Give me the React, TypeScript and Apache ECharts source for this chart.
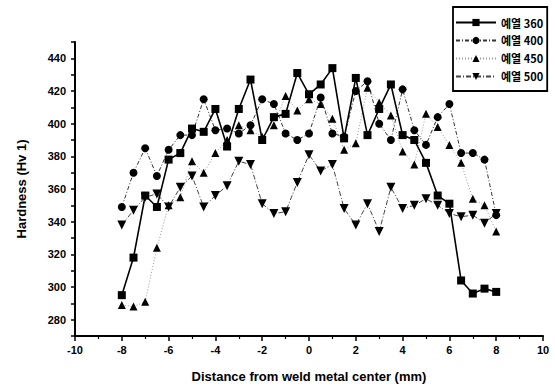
import React, { useEffect, useRef } from "react";
import * as echarts from "echarts";

const positions = [-8, -7.5, -7, -6.5, -6, -5.5, -5, -4.5, -4, -3.5, -3, -2.5, -2, -1.5, -1, -0.5, 0, 0.5, 1, 1.5, 2, 2.5, 3, 3.5, 4, 4.5, 5, 5.5, 6, 6.5, 7, 7.5, 8];
const seriesNames = ["예열 360", "예열 400", "예열 450", "예열 500"];
const hardness360 = [295, 318, 356, 349, 378, 382, 397, 395, 409, 386, 409, 427, 390, 404, 406, 431, 418, 424, 434, 391, 428, 393, 409, 424, 393, 390, 376, 356, 351, 304, 296, 299, 297];
const hardness400 = [349, 370, 385, 368, 384, 393, 393, 415, 396, 397, 394, 399, 415, 412, 394, 390, 394, 416, 394, 392, 420, 426, 400, 390, 421, 396, 387, 404, 412, 382, 382, 378, 344];
const hardness450 = [289, 288, 291, 324, 350, 355, 377, 370, 382, 390, 399, 396, 392, 399, 417, 408, 415, 412, 403, 384, 388, 422, 413, 405, 383, 375, 406, 398, 387, 376, 354, 350, 334];
const hardness500 = [338, 347, 355, 357, 349, 361, 368, 349, 356, 362, 377, 375, 351, 345, 346, 364, 381, 371, 375, 348, 338, 351, 334, 361, 348, 350, 354, 350, 345, 343, 344, 339, 345];
const xTicks = { min: -10, max: 10, interval: 2 };
const yTicks = { min: 270, max: 450, interval: 10, labelFrom: 280, labelTo: 440, labelStep: 20 };

const FONT = "Liberation Sans, Arial, sans-serif";
const KFONT = "Noto Sans CJK KR, Liberation Sans, sans-serif";

export default function App() {
  const ref = useRef<HTMLDivElement>(null);
  useEffect(() => {
    const chart = echarts.init(ref.current!, null, { renderer: "svg" });
    const toPairs = (vals: number[]) => positions.map((x, i) => [x, vals[i]]);
    chart.setOption({
      animation: false,
      backgroundColor: "#fff",
      grid: { left: 75, right: 12, top: 42, bottom: 49 },
      legend: {
        orient: "vertical",
        left: 453,
        top: 7,
        width: 96,
        borderColor: "#000",
        borderWidth: 1.8,
        padding: [10, 4, 9, 2],
        itemGap: 7,
        itemWidth: 40,
        itemHeight: 9,
        textStyle: { fontFamily: KFONT, fontWeight: "bold", fontSize: 11, color: "#000" },
        data: seriesNames,
      },
      xAxis: {
        type: "value",
        min: xTicks.min,
        max: xTicks.max,
        interval: xTicks.interval,
        name: "Distance from weld metal center (mm)",
        nameLocation: "middle",
        nameGap: 34,
        nameTextStyle: { fontFamily: FONT, fontWeight: "bold", fontSize: 13, color: "#000" },
        axisLine: { onZero: false, lineStyle: { color: "#000", width: 2 } },
        axisTick: { show: true, inside: false, length: 5, lineStyle: { color: "#000", width: 1.5 } },
        minorTick: { show: true, splitNumber: 2, length: 3, lineStyle: { color: "#000", width: 1.2 } },
        axisLabel: { fontFamily: FONT, fontWeight: "bold", fontSize: 11, color: "#000", margin: 8 },
        splitLine: { show: false },
      },
      yAxis: {
        type: "value",
        min: yTicks.min,
        max: yTicks.max,
        interval: yTicks.interval,
        name: "Hardness (Hv 1)",
        nameLocation: "middle",
        nameGap: 47,
        nameTextStyle: { fontFamily: FONT, fontWeight: "bold", fontSize: 13, color: "#000" },
        axisLine: { show: true, onZero: false, lineStyle: { color: "#000", width: 2 } },
        axisTick: { show: true, inside: false, length: 4, lineStyle: { color: "#000", width: 1.5 } },
        axisLabel: {
          fontFamily: FONT,
          fontWeight: "bold",
          fontSize: 11,
          color: "#000",
          margin: 9,
          formatter: (v: number) =>
            v >= yTicks.labelFrom && v <= yTicks.labelTo && (v - yTicks.labelFrom) % yTicks.labelStep === 0 ? String(v) : "",
        },
        splitLine: { show: false },
      },
      series: [
        {
          name: seriesNames[0],
          type: "line",
          data: toPairs(hardness360),
          symbol: "rect",
          symbolSize: 8,
          itemStyle: { color: "#000" },
          lineStyle: { color: "#000", width: 1.6, type: "solid" },
          z: 4,
        },
        {
          name: seriesNames[1],
          type: "line",
          data: toPairs(hardness400),
          symbol: "circle",
          symbolSize: 8,
          itemStyle: { color: "#000" },
          lineStyle: { color: "#333", width: 1, type: [4, 2, 1, 2] },
          z: 3,
        },
        {
          name: seriesNames[2],
          type: "line",
          data: toPairs(hardness450),
          symbol: "triangle",
          symbolSize: 8,
          itemStyle: { color: "#000" },
          lineStyle: { color: "#999", width: 1, type: [1, 2] },
          z: 2,
        },
        {
          name: seriesNames[3],
          type: "line",
          data: toPairs(hardness500),
          symbol: "triangle",
          symbolRotate: 180,
          symbolSize: 9,
          itemStyle: { color: "#000" },
          lineStyle: { color: "#444", width: 1, type: [5, 2, 1, 2] },
          z: 3,
        },
      ],
    });
    return () => chart.dispose();
  }, []);
  return <div ref={ref} style={{ position: "fixed", left: 0, top: 0, width: 555, height: 388 }} />;
}
